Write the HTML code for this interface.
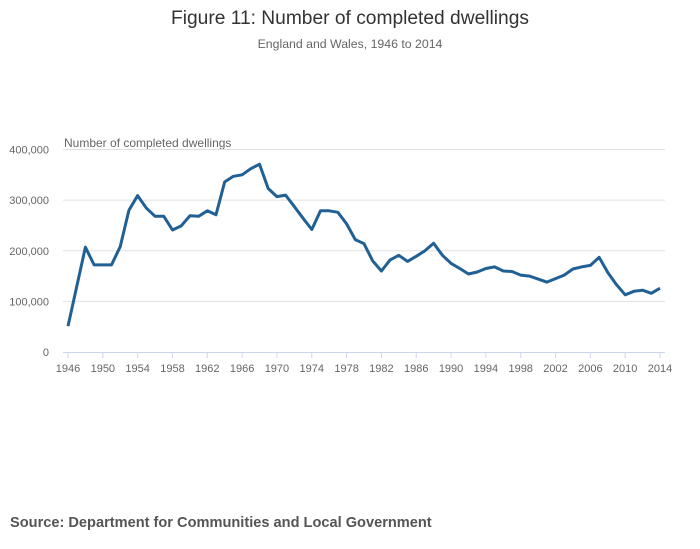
<!DOCTYPE html>
<html><head><meta charset="utf-8"><style>
body{margin:0;background:#fff;width:700px;height:549px;overflow:hidden;font-family:"Liberation Sans",sans-serif;}
svg{display:block}
</style></head><body>
<svg id="chart" width="700" height="549">
<text x="350" y="24" text-anchor="middle" font-size="19.2" fill="#333">Figure 11: Number of completed dwellings</text>
<text x="350" y="48" text-anchor="middle" font-size="12.3" fill="#666">England and Wales, 1946 to 2014</text>
<text x="64" y="147" font-size="12" fill="#666">Number of completed dwellings</text>
<g id="grid"></g><g id="xaxis"></g>
<path id="line" fill="none" stroke="#206095" stroke-width="3" stroke-linejoin="round"></path>
<text x="10" y="527" font-size="14.6" font-weight="bold" fill="#555">Source: Department for Communities and Local Government</text>
</svg>
<script>
const years=[];for(let y=1946;y<=2014;y++)years.push(y);
const values=[51,129,207,172,172,172,208,280,309,284,268,268,241,249,269,268,279,271,336,347,350,362,371,323,307,310,287,264,242,279,279,276,253,222,214,180,160,182,191,179,189,200,215,191,175,165,154,158,165,168,160,159,152,150,144,138,145,152,164,168,171,187,157,133,113,120,122,116,126].map(v=>v*1000);
const yTicks=[0,100000,200000,300000,400000];
const yTickLabels=["0","100,000","200,000","300,000","400,000"];
const xTicks=[1946,1950,1954,1958,1962,1966,1970,1974,1978,1982,1986,1990,1994,1998,2002,2006,2010,2014];
const NS="http://www.w3.org/2000/svg";
const X=y=>68+(y-1946)*(660-68)/68;
const Y=v=>352-v*(352-149.5)/400000;
const grid=document.getElementById('grid'),xa=document.getElementById('xaxis');
yTicks.forEach((t,i)=>{
 if(i>0){const l=document.createElementNS(NS,'line');
 l.setAttribute('x1',63);l.setAttribute('x2',665);l.setAttribute('y1',Y(t));l.setAttribute('y2',Y(t));l.setAttribute('stroke','#e0e0e0');
 
 
 grid.appendChild(l);}
 const tx=document.createElementNS(NS,'text');
 tx.setAttribute('x',49);tx.setAttribute('y',Y(t)+4);tx.setAttribute('text-anchor','end');tx.setAttribute('font-size','11');tx.setAttribute('fill','#666');
 tx.textContent=yTickLabels[i];
 
 
 grid.appendChild(tx);
});
const ax=document.createElementNS(NS,'line');
ax.setAttribute('x1',63);ax.setAttribute('x2',665);ax.setAttribute('y1',352.5);ax.setAttribute('y2',352.5);ax.setAttribute('stroke','#ccd6eb');


xa.appendChild(ax);
xTicks.forEach(t=>{
 const l=document.createElementNS(NS,'line');
 l.setAttribute('x1',X(t));l.setAttribute('x2',X(t));l.setAttribute('y1',352);l.setAttribute('y2',358);l.setAttribute('stroke','#ccd6eb');
 
 
 xa.appendChild(l);
 const tx=document.createElementNS(NS,'text');
 tx.setAttribute('x',X(t));tx.setAttribute('y',372);tx.setAttribute('text-anchor','middle');tx.setAttribute('font-size','11');tx.setAttribute('fill','#666');
 tx.textContent=t;
 
 
 xa.appendChild(tx);
});
document.getElementById('line').setAttribute('d',values.map((v,i)=>(i?'L':'M')+X(years[i]).toFixed(1)+' '+Y(v).toFixed(1)).join(' '));
</script>
</body></html>
